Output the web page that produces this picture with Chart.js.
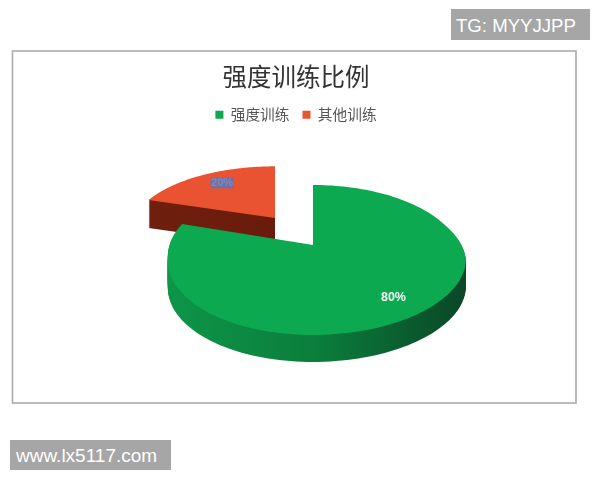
<!DOCTYPE html>
<html><head><meta charset="utf-8">
<script src="https://cdn.jsdelivr.net/npm/chart.js@4"></script>
<style>
html,body{margin:0;padding:0;background:#fff;width:600px;height:480px;overflow:hidden}
#wrap{position:relative;width:600px;height:480px}
canvas{position:absolute;left:0;top:0}
.mark{position:absolute;background:#a6a6a6;color:#fff;font-family:"Liberation Sans",sans-serif;text-align:left;white-space:nowrap}
</style></head><body>
<div id="wrap">
<canvas id="c" width="600" height="480"></canvas>
<div class="mark" style="left:451px;top:9px;width:134px;height:31px;padding-left:5px;line-height:33px;font-size:18.6px">TG: MYYJJPP</div>
<div class="mark" style="left:10px;top:440px;width:155px;height:30px;padding-left:6px;line-height:32px;font-size:19px">www.lx5117.com</div>
</div>
<script>
const categories = ["强度训练", "其他训练"];
const shares = [80, 20];
const topColors = ["#0CA950", "#EA5331"];
const chartTitle = "强度训练比例";

// screen placement of each 3D slice (apex, half sizes, perspective, lean, depth)
const views = [
  {cx:313, cy:245, b:146, a:72, k:0.2, lean:4, depth:27, side:[[168,"#0E9549"],[320,"#0A7D3B"],[466,"#0A4727"]]},
  {cx:275, cy:218, b:141, a:62, k:0.2, lean:0, depth:28, side:[[149,"#6E1F0E"],[275,"#6A1B0C"]]}
];
function project(v,u,w){
  const s=1/(1-v.k*w);
  const bend=Math.min(1,Math.max(0,(w+0.31)/0.5));
  return [v.cx+v.b*u*s+v.lean*u*u*bend, v.cy+v.a*w*s];
}

const pie3d = {
  id:"pie3d",
  beforeDraw(chart){
    const c=chart.ctx;
    c.save();c.fillStyle="#fff";c.fillRect(0,0,600,480);
    c.strokeStyle="#ABABAB";c.lineWidth=1.6;c.strokeRect(12.5,51,563.5,352);c.restore();
  },
  beforeDatasetDraw(chart,args){
    const c=chart.ctx, arcs=args.meta.data;
    // back slice first so that the large slice overlaps it
    for(let i=arcs.length-1;i>=0;i--){
      const arc=arcs[i], v=views[i];
      const pts=[project(v,0,0)];
      const n=160;
      for(let j=0;j<=n;j++){
        const t=arc.startAngle+(arc.endAngle-arc.startAngle)*j/n;
        pts.push(project(v,Math.cos(t),Math.sin(t)));
      }
      const trace=d=>{c.beginPath();pts.forEach((p,j)=>j?c.lineTo(p[0],p[1]+d):c.moveTo(p[0],p[1]+d));c.closePath();};
      const x0=v.side[0][0],x1=v.side[v.side.length-1][0];
      const g=c.createLinearGradient(x0,0,x1,0);
      v.side.forEach(s=>g.addColorStop((s[0]-x0)/(x1-x0),s[1]));
      c.save();
      c.fillStyle=g;
      for(let d=v.depth;d>=1;d--){trace(d);c.fill();}
      trace(0);c.fillStyle=arc.options.backgroundColor;c.fill();
      c.restore();
    }
    // percentage labels
    const total=shares.reduce((a,b)=>a+b,0);
    arcs.forEach((arc,i)=>{
      const v=views[i], mid=(arc.startAngle+arc.endAngle)/2, t=0.78;
      const p=project(v,Math.cos(mid)*t,Math.sin(mid)*t);
      const txt=Math.round(shares[i]/total*100)+"%";
      c.save();
      c.textAlign="center";c.textBaseline="middle";
      if(i===0){
        c.font="bold 12.5px 'Liberation Sans'";c.fillStyle="#F2FBF5";
        c.fillText(txt,p[0]+3,p[1]+1);
      }else{
        c.fillStyle="#6C72A8";c.fillRect(p[0]-7,p[1]-6,23,11);
        c.font="bold 11px 'Liberation Sans'";c.fillStyle="#8488B6";
        c.fillText(txt,p[0]+4.5,p[1]);
      }
      c.restore();
    });
    return false;
  }
};

new Chart(document.getElementById("c"),{
  type:"pie",
  data:{labels:categories,datasets:[{data:shares,backgroundColor:topColors,borderWidth:0}]},
  plugins:[pie3d],
  options:{
    responsive:false,animation:false,
    layout:{padding:{top:62,right:8,left:0,bottom:90}},
    plugins:{
      title:{display:true,text:chartTitle,color:"#333",font:{family:"'Noto Sans CJK SC'",size:24.5,weight:"normal"},padding:{top:0,bottom:3}},
      legend:{position:"top",labels:{color:"#555",boxWidth:8,boxHeight:8,padding:13,font:{family:"'Noto Sans CJK SC'",size:14.7}}},
      tooltip:{enabled:false}
    }
  }
});
</script>
</body></html>
